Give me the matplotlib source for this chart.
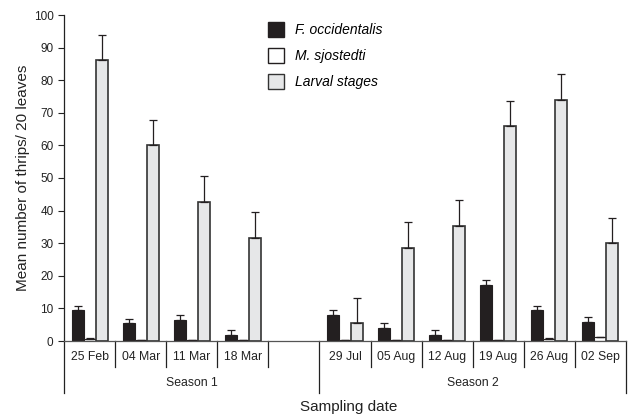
import matplotlib
matplotlib.use("Agg")
import matplotlib.pyplot as plt
from matplotlib.transforms import blended_transform_factory
from matplotlib.patches import Patch
import numpy as np

plt.rcParams['font.family'] = ['Liberation Sans', 'DejaVu Sans']

dates = ["25 Feb", "04 Mar", "11 Mar", "18 Mar", "",
         "29 Jul", "05 Aug", "12 Aug", "19 Aug", "26 Aug", "02 Sep"]
seasons = ["Season 1", "Season 2"]

# values per slot (empty slot between seasons has no bars)
focc = [9.6, 5.6, 6.5, 1.9, np.nan, 8.1, 4.1, 1.9, 17.3, 9.5, 5.9]
focc_err = [1.0, 1.1, 1.5, 1.5, 0, 1.4, 1.4, 1.5, 1.4, 1.1, 1.4]
msjo = [0.6, 0.2, 0.2, 0.2, np.nan, 0.2, 0.2, 0.2, 0.2, 0.6, 1.3]
msjo_err = [0.2, 0, 0, 0, 0, 0, 0, 0, 0, 0.2, 0]
larv = [86.2, 60.0, 42.5, 31.5, np.nan, 5.4, 28.5, 35.2, 65.8, 74.0, 30.0]
larv_err = [7.8, 7.8, 8.0, 8.0, 0, 7.8, 8.0, 8.1, 7.8, 7.8, 7.8]

dark = "#231f20"
light = "#e6e7e8"

fig = plt.figure(figsize=(6.29, 4.17), dpi=100)
ax = fig.add_axes([64/629, 76/417, 562/629, 326/417])

x = np.arange(len(dates)) + 0.5
w = 0.235
zeros = [0] * len(dates)
ekw = dict(ecolor=dark, elinewidth=0.9, capsize=3, capthick=0.9)
ax.bar(x - w, focc, w, color=dark, edgecolor=dark, lw=0.8,
       yerr=[zeros, focc_err], error_kw=ekw)
ax.bar(x, msjo, w, color="white", edgecolor=dark, lw=0.8,
       yerr=[zeros, msjo_err], error_kw=ekw)
ax.bar(x + w, larv, w, color=light, edgecolor="#333333", lw=1.2,
       yerr=[zeros, larv_err], error_kw=ekw)

ax.set_xlim(0, len(dates))
ax.set_ylim(0, 100)
ax.set_yticks(np.arange(0, 101, 10))
ax.tick_params(axis='y', labelsize=8.5, length=4, width=0.8, colors="#222222")
ax.set_xticks([])
for s in ["top", "right"]:
    ax.spines[s].set_visible(False)
ax.spines["left"].set_linewidth(0.9)
ax.spines["bottom"].set_linewidth(0.9)
ax.spines["left"].set_color("#222222")
ax.spines["bottom"].set_color("#555555")

tr = blended_transform_factory(ax.transData, ax.transAxes)
# date separators
for b in range(len(dates) + 1):
    long = b in (0, 5, len(dates))
    ax.plot([b, b], [0, -0.160 if long else -0.08], color="#222222", lw=0.9,
            transform=tr, clip_on=False)
for xi, d in zip(x, dates):
    ax.text(xi, -0.049, d, transform=tr, ha="center", va="center",
            fontsize=8.8, color="#222222")
ax.text(2.5, -0.129, seasons[0], transform=tr, ha="center", va="center",
        fontsize=8.8, color="#222222")
ax.text(8.0, -0.129, seasons[1], transform=tr, ha="center", va="center",
        fontsize=8.8, color="#222222")
ax.text(5.58, -0.202, "Sampling date", transform=tr, ha="center", va="center",
        fontsize=11, color="#222222")

ax.set_ylabel("Mean number of thrips/ 20 leaves", fontsize=11, color="#222222",
              labelpad=3)

handles = [Patch(facecolor=dark, edgecolor=dark),
           Patch(facecolor="white", edgecolor=dark),
           Patch(facecolor=light, edgecolor="#333333")]
ax.legend(handles, ["F. occidentalis", "M. sjostedti", "Larval stages"],
          loc="upper left", bbox_to_anchor=(0.34, 1.017), frameon=False,
          prop={"style": "italic", "size": 10}, handlelength=1.2,
          handleheight=1.3, labelspacing=0.78, handletextpad=0.8)

fig.savefig("out.png", dpi=100)
